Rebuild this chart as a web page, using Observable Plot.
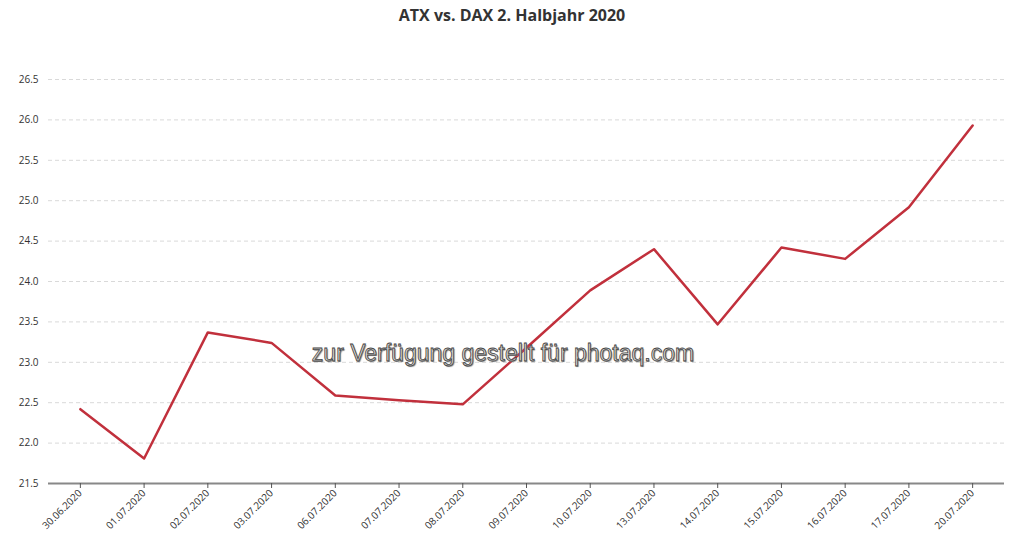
<!DOCTYPE html>
<html>
<head>
<meta charset="utf-8">
<script src="https://cdn.jsdelivr.net/npm/d3@7"></script>
<script src="https://cdn.jsdelivr.net/npm/@observablehq/plot@0.6"></script>
<style>
  html, body { margin: 0; padding: 0; background: #fff; }
  #wrap { position: relative; width: 1024px; height: 552px; overflow: hidden; }
  #title { height: 30px; line-height: 30px; text-align: center; font-family: "Open Sans", sans-serif; font-weight: bold; font-size: 16px; color: #333; }
  #wm { position: absolute; left: 0; width: 1006px; top: 340px; text-align: center; font-family: "Liberation Sans", Arial, sans-serif; font-size: 23px; color: #d8d8d8; -webkit-text-stroke: 0.8px #444; text-shadow: 1px 1px 1px #888; pointer-events: none; }
</style>
</head>
<body>
<div id="wrap">
  <div id="title">ATX vs. DAX 2. Halbjahr 2020</div>
  <div id="chart"></div>
  <div id="wm">zur Verfügung gestellt für photaq.com</div>
</div>
<script>
const dates = ["30.06.2020","01.07.2020","02.07.2020","03.07.2020","06.07.2020","07.07.2020","08.07.2020","09.07.2020","10.07.2020","13.07.2020","14.07.2020","15.07.2020","16.07.2020","17.07.2020","20.07.2020"];
const values = [22.42, 21.81, 23.37, 23.24, 22.59, 22.53, 22.48, 23.18, 23.89, 24.40, 23.47, 24.42, 24.28, 24.92, 25.93];
const yTicks = [21.5, 22.0, 22.5, 23.0, 23.5, 24.0, 24.5, 25.0, 25.5, 26.0, 26.5];

const data = dates.map((d, i) => ({date: d, value: values[i]}));

const chart = Plot.plot({
  width: 1024,
  height: 522,
  marginTop: 49,
  marginBottom: 69,
  marginLeft: 48,
  marginRight: 20,
  style: {fontFamily: "'Open Sans', sans-serif", fontSize: "10px", color: "#333", background: "#fff"},
  x: {type: "point", domain: dates, padding: 0.5, round: false, label: null},
  y: {domain: [21.5, 26.5], label: null},
  marks: [
    Plot.ruleY(yTicks.filter(t => t > 21.5), {stroke: "#d9d9d9", strokeDasharray: "4,3", strokeWidth: 1}),
    Plot.ruleY([21.5], {stroke: "#888", strokeWidth: 2}),
    Plot.axisY({ticks: yTicks, tickSize: 0, tickPadding: 10, tickFormat: d => d.toFixed(1), fontSize: 10, label: null}),
    Plot.axisX({tickRotate: -45, tickSize: 5, tickPadding: 3, stroke: "#555", fontSize: 10, label: null}),
    Plot.line(data, {x: "date", y: "value", stroke: "#c1303c", strokeWidth: 2.5})
  ]
});
document.getElementById("chart").appendChild(chart);
</script>
</body>
</html>
